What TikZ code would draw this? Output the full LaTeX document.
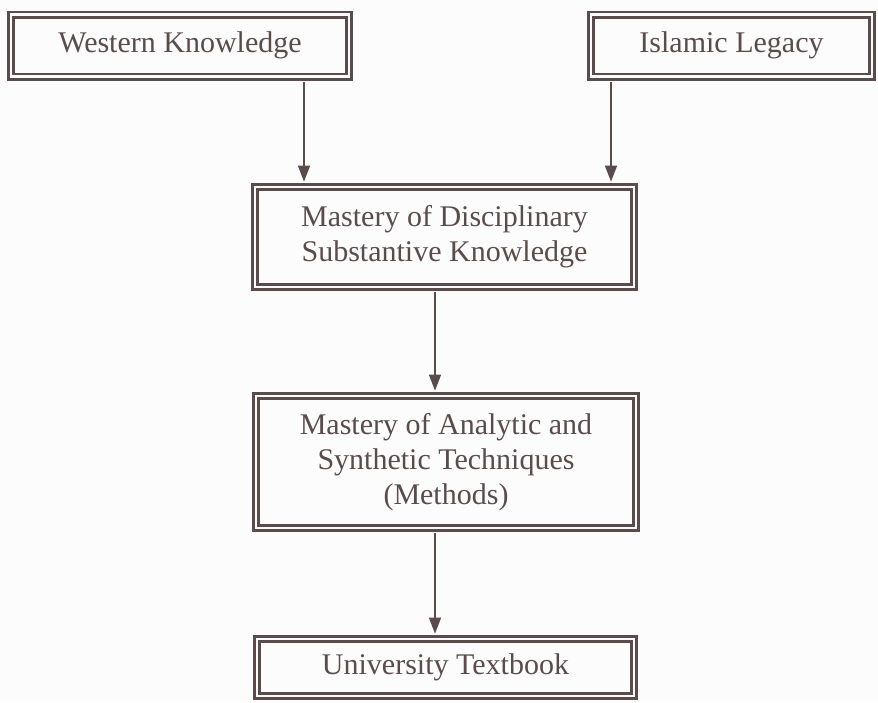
\documentclass[tikz,border=0pt]{standalone}
\usepackage{fontspec}
\setmainfont{Liberation Serif}
\usetikzlibrary{arrows.meta}
\definecolor{ink}{RGB}{90,76,76}
\definecolor{paper}{RGB}{252,252,252}
\tikzset{
  dbox/.style={draw=ink, line width=2.75pt, double=paper, double distance=2.5pt,
    inner sep=0pt, align=center, text=ink, minimum width=#1,
    font=\fontsize{30}{35}\selectfont},
  arr/.style={draw=ink, line width=1.6pt, shorten <=4pt, shorten >=4pt,
    -{Triangle[length=16pt,width=12pt]}}
}
\begin{document}
\begin{tikzpicture}[x=1pt,y=-1pt]
\fill[paper] (0,0) rectangle (878,702);
\useasboundingbox (0,0) rectangle (878,702);
\node[dbox=338pt, minimum height=62pt] (wk) at (180,45.5) {Western Knowledge};
\node[dbox=281pt, minimum height=62pt] (il) at (731.5,45.5) {Islamic Legacy};
\node[dbox=379pt, minimum height=100pt] (md) at (444.5,237) {Mastery of Disciplinary\\Substantive Knowledge};
\node[dbox=380pt, minimum height=132pt] (ma) at (446,462) {Mastery of Analytic and\\Synthetic Techniques\\(Methods)};
\node[dbox=377pt, minimum height=57pt] (ut) at (445.5,667.5) {University Textbook};
\coordinate (xl) at (304,0);
\coordinate (xr) at (611,0);
\coordinate (xm) at (435,0);
\draw[arr] (wk.south -| xl) -- (md.north -| xl);
\draw[arr] (il.south -| xr) -- (md.north -| xr);
\draw[arr] (md.south -| xm) -- (ma.north -| xm);
\draw[arr] (ma.south -| xm) -- (ut.north -| xm);
\end{tikzpicture}
\end{document}
